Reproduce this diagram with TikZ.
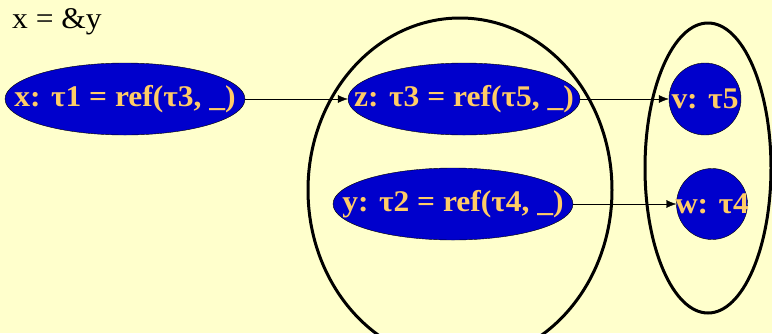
\documentclass[tikz,border=0pt]{standalone}
\usepackage{fontspec}
\setmainfont{Liberation Serif}[FakeStretch=1.05]
\usetikzlibrary{arrows.meta,shapes.geometric}
\definecolor{paper}{HTML}{FFFFCC}
\definecolor{cell}{HTML}{0000CC}
\definecolor{gold}{HTML}{FFCC66}

\begin{document}
\begin{tikzpicture}[x=1pt,y=-1pt,>={Latex[length=10pt,width=8pt]},
oval/.style={ellipse,draw=black,fill=cell,text=gold,font=\fontsize{30}{36}\selectfont\bfseries,minimum width=240pt,minimum height=72pt,inner xsep=-40pt,inner ysep=0pt},
cellnode/.style={circle,draw=black,fill=cell,text=gold,font=\fontsize{30}{36}\selectfont\bfseries,minimum size=72pt,inner sep=-6pt},
group/.style={ellipse,draw=black,line width=3pt,inner sep=0pt}]
  \useasboundingbox (0,0) rectangle (772,333);
  \fill[paper] (0,0) rectangle (772,333);
  \clip (0,0) rectangle (772,333);
  \node[anchor=west,font=\fontsize{30}{36}\selectfont,inner sep=0pt] (assign) at (12,22) {x = \&y};
  \node[group,minimum width=304pt,minimum height=344pt] (mid) at (460,190) {};
  \node[group,minimum width=126pt,minimum height=290pt] (right) at (708,168) {};
  \node[oval] (x) at (125,99) {x: τ1 = ref(τ3, \_)};
  \node[oval,minimum width=232pt] (z) at (464,99) {z: τ3 = ref(τ5, \_)};
  \node[oval] (y) at (453,204) {y: τ2 = ref(τ4, \_)};
  \node[cellnode] (v) at (705,99) {v: τ5};
  \node[cellnode,minimum size=71pt] (w) at (712,204) {w: τ4};
  \draw[->] (x) -- (z);
  \draw[->] (z) -- (v);
  \draw[->] (y) -- (w);
\end{tikzpicture}
\end{document}
